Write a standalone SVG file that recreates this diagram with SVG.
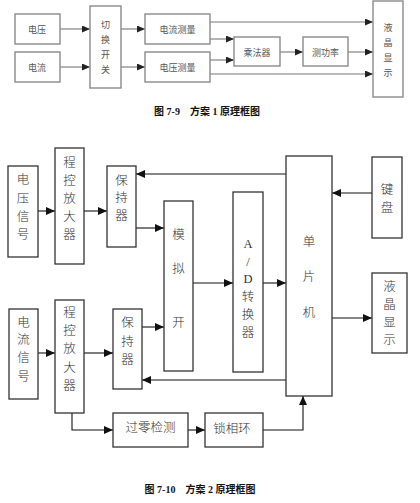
<svg xmlns="http://www.w3.org/2000/svg" width="420" height="503" viewBox="0 0 420 503">
<defs>
<marker id="ah" markerUnits="userSpaceOnUse" markerWidth="9" markerHeight="8" refX="9" refY="4" orient="auto">
<path d="M0,0 L9,4 L0,8 z" fill="#111"/>
</marker>
<marker id="ah2" markerUnits="userSpaceOnUse" markerWidth="8" markerHeight="7" refX="8" refY="3.5" orient="auto">
<path d="M0,0 L8,3.5 L0,7 z" fill="#222"/>
</marker>
<style>
.b1{fill:#fff;stroke:#8a8a8a;stroke-width:1.4}
.t1{font-family:"Noto Sans CJK SC",sans-serif;font-size:9px;fill:#555;text-anchor:middle;dominant-baseline:central}
.l1{fill:none;stroke:#777;stroke-width:1.1}
.b2{fill:#fff;stroke:#333;stroke-width:1.3}
.t2{font-family:"Liberation Serif","Noto Sans CJK SC",serif;font-size:12.5px;font-weight:300;fill:#333;text-anchor:middle;dominant-baseline:central}
.l2{fill:none;stroke:#111;stroke-width:1.1}
.cap{font-family:"Liberation Serif","Noto Sans CJK SC",serif;font-size:10px;font-weight:bold;fill:#111;text-anchor:middle}
</style>
</defs>
<rect width="420" height="503" fill="#fff"/>

<!-- Figure 7-9 -->
<g id="connectors1">
<path class="l1" d="M60,29 H90" marker-end="url(#ah2)"/>
<path class="l1" d="M60,67 H90" marker-end="url(#ah2)"/>
<path class="l1" d="M121,29 H145" marker-end="url(#ah2)"/>
<path class="l1" d="M121,67 H145" marker-end="url(#ah2)"/>
<path class="l1" d="M210,22 H373" marker-end="url(#ah2)"/>
<path class="l1" d="M210,39 H234" marker-end="url(#ah2)"/>
<path class="l1" d="M210,60 H234" marker-end="url(#ah2)"/>
<path class="l1" d="M210,74 H373" marker-end="url(#ah2)"/>
<path class="l1" d="M280,52 H303" marker-end="url(#ah2)"/>
<path class="l1" d="M348,52 H373" marker-end="url(#ah2)"/>
</g>
<g id="n1-voltage"><rect class="b1" x="15" y="14" width="45" height="30"/><text class="t1" x="37" y="29">电压</text></g>
<g id="n1-current"><rect class="b1" x="15" y="52" width="45" height="30"/><text class="t1" x="37" y="67">电流</text></g>
<g id="n1-switch"><rect class="b1" x="90" y="6" width="31" height="82"/>
<text class="t1" x="105.5" y="24">切</text><text class="t1" x="105.5" y="39">换</text><text class="t1" x="105.5" y="54">开</text><text class="t1" x="105.5" y="69">关</text></g>
<g id="n1-imeas"><rect class="b1" x="145" y="14" width="65" height="30"/><text class="t1" x="177.5" y="29">电流测量</text></g>
<g id="n1-vmeas"><rect class="b1" x="145" y="52" width="65" height="30"/><text class="t1" x="177.5" y="67">电压测量</text></g>
<g id="n1-mult"><rect class="b1" x="234" y="37" width="46" height="29"/><text class="t1" x="257" y="52">乘法器</text></g>
<g id="n1-power"><rect class="b1" x="303" y="37" width="45" height="29"/><text class="t1" x="325.5" y="52">测功率</text></g>
<g id="n1-lcd"><rect class="b1" x="373" y="1" width="30" height="96"/>
<text class="t1" x="388" y="27">液</text><text class="t1" x="388" y="42">晶</text><text class="t1" x="388" y="57">显</text><text class="t1" x="388" y="72">示</text></g>
<text class="cap" x="207" y="115">图 7-9　方案 1 原理框图</text>

<!-- Figure 7-10 -->
<g id="connectors2">
<path class="l2" d="M38,211 H55" marker-end="url(#ah)"/>
<path class="l2" d="M84,211 H107" marker-end="url(#ah)"/>
<path class="l2" d="M136,228 H164" marker-end="url(#ah)"/>
<path class="l2" d="M286,174 H136" marker-end="url(#ah)"/>
<path class="l2" d="M193,283 H233" marker-end="url(#ah)"/>
<path class="l2" d="M263,283 H286" marker-end="url(#ah)"/>
<path class="l2" d="M372,193 H332" marker-end="url(#ah)"/>
<path class="l2" d="M332,318 H372" marker-end="url(#ah)"/>
<path class="l2" d="M38,353 H55" marker-end="url(#ah)"/>
<path class="l2" d="M84,353 H113" marker-end="url(#ah)"/>
<path class="l2" d="M142,327 H164" marker-end="url(#ah)"/>
<path class="l2" d="M286,380 H142" marker-end="url(#ah)"/>
<path class="l2" d="M72,413 V430 H113" marker-end="url(#ah)"/>
<path class="l2" d="M188,430 H205" marker-end="url(#ah)"/>
<path class="l2" d="M263,430 H303 V396" marker-end="url(#ah)"/>
</g>
<g id="vsig"><rect class="b2" x="8" y="166" width="30" height="91"/>
<text class="t2" x="23" y="180">电</text><text class="t2" x="23" y="199">压</text><text class="t2" x="23" y="217">信</text><text class="t2" x="23" y="235">号</text></g>
<g id="pga1"><rect class="b2" x="55" y="148" width="29" height="116"/>
<text class="t2" x="69.5" y="163">程</text><text class="t2" x="69.5" y="181">控</text><text class="t2" x="69.5" y="199">放</text><text class="t2" x="69.5" y="217">大</text><text class="t2" x="69.5" y="235">器</text></g>
<g id="hold1"><rect class="b2" x="107" y="166" width="29" height="81"/>
<text class="t2" x="121.5" y="181">保</text><text class="t2" x="121.5" y="198">持</text><text class="t2" x="121.5" y="216">器</text></g>
<g id="amux"><rect class="b2" x="164" y="201" width="29" height="170"/>
<text class="t2" x="178.5" y="235">模</text><text class="t2" x="178.5" y="269">拟</text><text class="t2" x="178.5" y="323">开</text></g>
<g id="adc"><rect class="b2" x="233" y="192" width="30" height="180"/>
<text class="t2" x="248" y="244">A</text><text class="t2" x="248" y="262">/</text><text class="t2" x="248" y="279">D</text><text class="t2" x="248" y="297">转</text><text class="t2" x="248" y="315">换</text><text class="t2" x="248" y="333">器</text></g>
<g id="mcu"><rect class="b2" x="286" y="156" width="46" height="240"/>
<text class="t2" x="309" y="242">单</text><text class="t2" x="309" y="277">片</text><text class="t2" x="309" y="313">机</text></g>
<g id="keypad"><rect class="b2" x="372" y="157" width="30" height="81"/>
<text class="t2" x="387" y="190">键</text><text class="t2" x="387" y="208">盘</text></g>
<g id="lcd2"><rect class="b2" x="372" y="273" width="35" height="80"/>
<text class="t2" x="389.5" y="287">液</text><text class="t2" x="389.5" y="305">晶</text><text class="t2" x="389.5" y="323">显</text><text class="t2" x="389.5" y="340">示</text></g>
<g id="isig"><rect class="b2" x="9" y="309" width="29" height="90"/>
<text class="t2" x="23.5" y="323">电</text><text class="t2" x="23.5" y="340">流</text><text class="t2" x="23.5" y="358">信</text><text class="t2" x="23.5" y="377">号</text></g>
<g id="pga2"><rect class="b2" x="55" y="300" width="29" height="113"/>
<text class="t2" x="69.5" y="313">程</text><text class="t2" x="69.5" y="331">控</text><text class="t2" x="69.5" y="349">放</text><text class="t2" x="69.5" y="368">大</text><text class="t2" x="69.5" y="386">器</text></g>
<g id="hold2"><rect class="b2" x="113" y="309" width="29" height="80"/>
<text class="t2" x="127.5" y="323">保</text><text class="t2" x="127.5" y="342">持</text><text class="t2" x="127.5" y="360">器</text></g>
<g id="zcd"><rect class="b2" x="113" y="413" width="75" height="34"/>
<text class="t2" x="150.5" y="428">过零检测</text></g>
<g id="pll"><rect class="b2" x="205" y="413" width="58" height="34"/>
<text class="t2" x="232" y="429">锁相环</text></g>
<text class="cap" x="200" y="493">图 7-10　方案 2 原理框图</text>
</svg>
